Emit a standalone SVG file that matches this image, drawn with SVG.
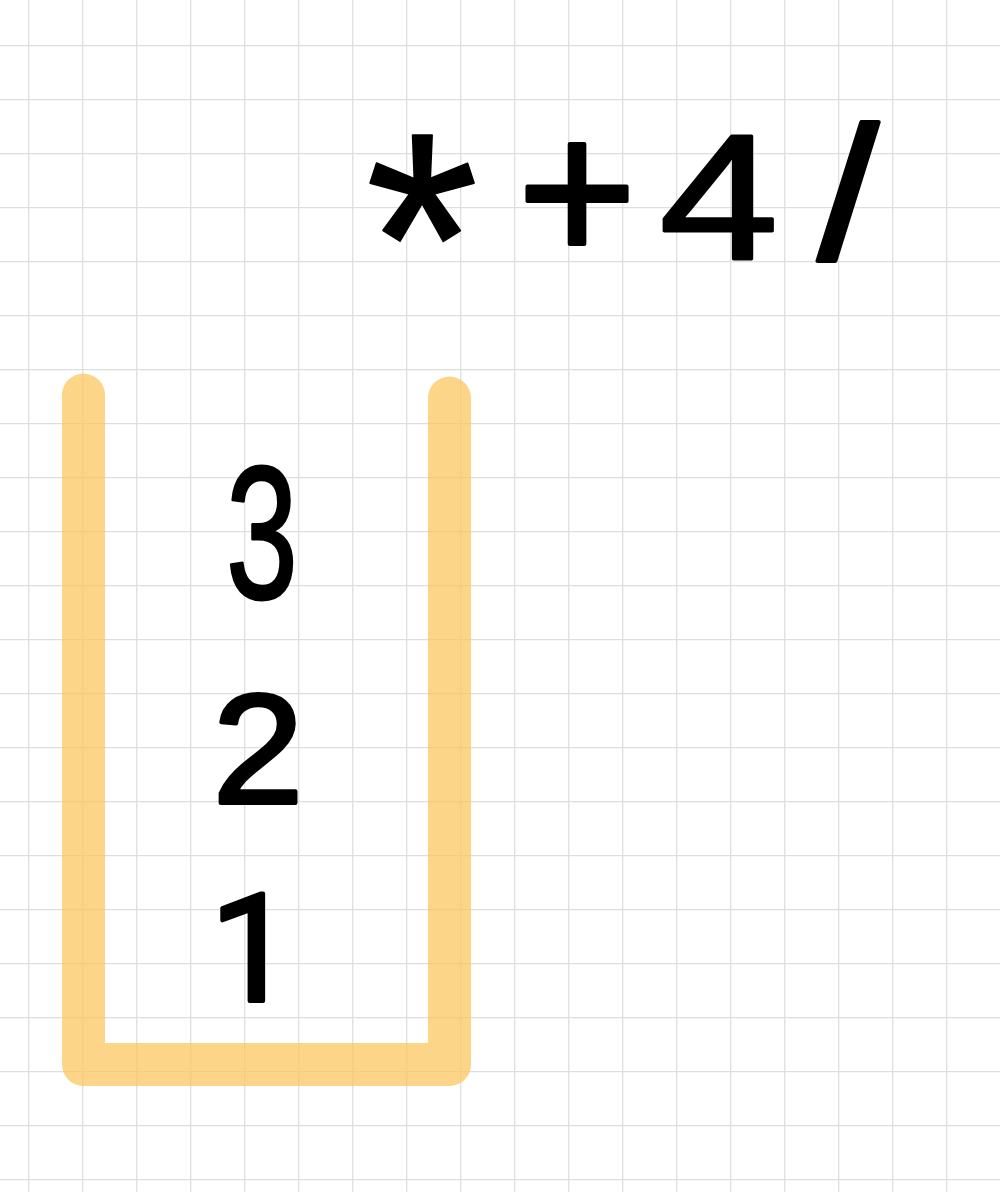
<svg xmlns="http://www.w3.org/2000/svg" width="1000" height="1192" viewBox="0 0 1000 1192">
<defs>
<style>
.grid{stroke:#000;stroke-opacity:0.13;stroke-width:1.3;fill:none}
.stack{stroke:#fcc55a;stroke-opacity:0.72;stroke-width:43;fill:none;stroke-linecap:round;stroke-linejoin:round}
.hand{fill:#000;stroke:#000;stroke-linejoin:round;stroke-linecap:round;text-anchor:middle}
</style>
</defs>
<rect width="1000" height="1192" fill="#fff"/>
<g id="grid">
<path class="grid" d="M28.7,0V1192M82.7,0V1192M136.7,0V1192M190.7,0V1192M244.7,0V1192M298.7,0V1192M352.7,0V1192M406.7,0V1192M460.7,0V1192M514.7,0V1192M568.7,0V1192M622.7,0V1192M676.7,0V1192M730.7,0V1192M784.7,0V1192M838.7,0V1192M892.7,0V1192M946.7,0V1192M0,45.7H1000M0,99.7H1000M0,153.7H1000M0,207.7H1000M0,261.7H1000M0,315.7H1000M0,369.7H1000M0,423.7H1000M0,477.7H1000M0,531.7H1000M0,585.7H1000M0,639.7H1000M0,693.7H1000M0,747.7H1000M0,801.7H1000M0,855.7H1000M0,909.7H1000M0,963.7H1000M0,1017.7H1000M0,1071.7H1000M0,1125.7H1000M0,1179.7H1000"/>
</g>
<g id="stack">
<path class="stack" d="M83.5,395V1064.5H449.5V398"/>
</g>
<g id="connectors"></g>
<g font-family="Liberation Sans, Roboto, sans-serif">
<g id="item-3"><text class="hand" transform="translate(262,598) scale(0.68,1)" font-size="190" stroke-width="3">3</text></g>
<g id="item-2"><text class="hand" transform="translate(258,803) scale(1.05,1)" font-size="156" stroke-width="4">2</text></g>
<g id="item-1"><text class="hand" font-family="Roboto, Open Sans, sans-serif" transform="translate(252,1001)" font-size="150" stroke-width="4">1</text></g>
<g id="op-mul"><text class="hand" transform="translate(422,343) scale(0.96,1)" font-size="302" stroke-width="2">*</text></g>
<g id="op-plus"><text class="hand" transform="translate(577,262)" font-size="204" stroke-width="4">+</text></g>
<g id="num-4"><text class="hand" transform="translate(719,259) scale(1.2,1)" font-size="178" stroke-width="3">4</text></g>
<g id="op-div"><text class="hand" transform="translate(848,259) scale(1.15,1)" font-size="190" stroke-width="4">/</text></g>
</g>
</svg>
